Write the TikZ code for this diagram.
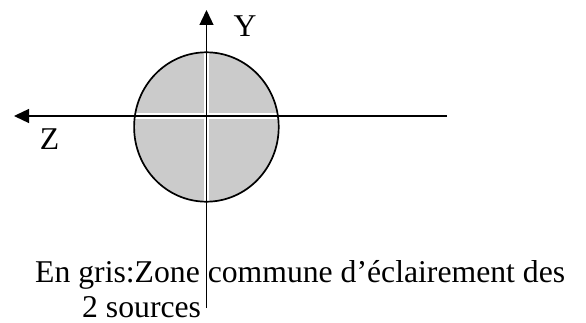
\documentclass[tikz,border=0pt]{standalone}
\usepackage{fontspec}
\setmainfont{Liberation Serif}
\usepackage{tikz}
\usetikzlibrary{arrows.meta,positioning}
\definecolor{zonegris}{RGB}{203,203,203}

\begin{document}
\begin{tikzpicture}[x=1pt,y=-1pt,
    axe/.style={line width=1.3pt,-{Triangle[length=15pt,width=14pt]}},
    bord/.style={line width=1.7pt},
    lettre/.style={font=\fontsize{31.7}{38}\selectfont,inner sep=0pt},
    legende/.style={lettre,anchor=base west}
]
\useasboundingbox (0,0) rectangle (586,323);
\coordinate (orig) at (206.5,116);
\coordinate (centre) at (206.4,127);
\coordinate (zfin) at (447,116);
\coordinate (zpointe) at (14,116);
\coordinate (ybas) at (206.5,308);
\coordinate (ypointe) at (206.5,10);
% zone commune
\fill[zonegris] (centre) ellipse [x radius=72.3pt,y radius=74.7pt];
\begin{scope}
  \clip (centre) ellipse [x radius=72.3pt,y radius=74.7pt];
  \draw[white,line width=5.5pt] (zfin)--(zpointe);
  \draw[white,line width=5.5pt] (ybas)--(ypointe);
\end{scope}
\draw[bord] (centre) ellipse [x radius=72.3pt,y radius=74.7pt];
% axes
\draw[axe] (zfin)--(zpointe);
\draw[axe] (ybas)--(ypointe);
\node[lettre] (ylab) at (245,26) {Y};
\node[lettre] (zlab) at (49.5,139) {Z};
\node[legende] (ligne1) at (35,282) {En gris:Zone commune d’éclairement des};
\node[legende] (ligne2) at (82,317) {2 sources};
\end{tikzpicture}
\end{document}
